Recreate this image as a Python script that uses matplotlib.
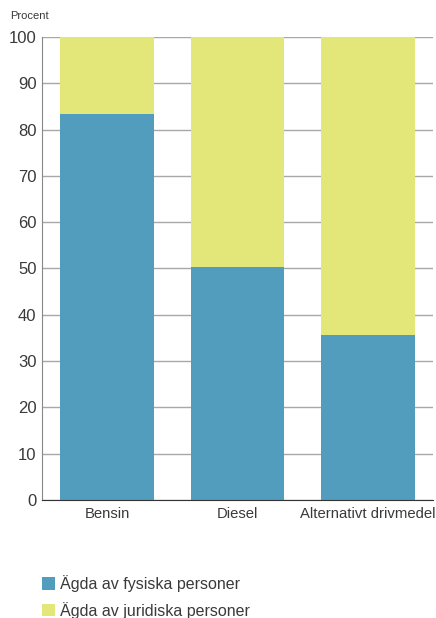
import matplotlib
matplotlib.use("Agg")
import matplotlib.pyplot as plt
from matplotlib.patches import Patch

categories = ["Bensin", "Diesel", "Alternativt drivmedel"]
fysiska = [83.4, 50.4, 35.6]
juridiska = [16.6, 49.6, 64.4]
series_names = ["Ägda av fysiska personer", "Ägda av juridiska personer"]
yticks = [0, 10, 20, 30, 40, 50, 60, 70, 80, 90, 100]

blue = "#529dbe"
yellow = "#e3e678"

plt.rcParams['font.family'] = ['Liberation Sans', 'DejaVu Sans']

fig = plt.figure(figsize=(4.36, 6.18), dpi=100)
ax = fig.add_axes([42/436, 118/618, 391/436, 463/618])

x = list(range(len(categories)))
ax.bar(x, fysiska, width=0.72, color=blue, zorder=2)
ax.bar(x, juridiska, width=0.72, bottom=fysiska, color=yellow, zorder=2)

ax.set_xlim(-0.5, 2.5)
ax.set_ylim(0, 100)
ax.set_yticks(yticks)
ax.set_yticklabels([str(t) for t in yticks], fontsize=12, color="#3a3a3a")
ax.set_xticks(x)
ax.set_xticklabels(categories, fontsize=10.7, color="#3a3a3a")
ax.tick_params(axis='y', length=0, pad=4)
ax.tick_params(axis='x', length=0, pad=5)
ax.yaxis.grid(True, color="#a8a8a8", linewidth=1, zorder=0)
ax.set_axisbelow(True)
for s in ["top", "right"]:
    ax.spines[s].set_visible(False)
ax.spines["left"].set_color("#888888")
ax.spines["bottom"].set_color("#333333")

fig.text(10/436, 1 - 16/618, "Procent", fontsize=8, color="#3a3a3a", va="center", ha="left")

handles = [Patch(facecolor=blue), Patch(facecolor=yellow)]
fig.legend(handles, series_names, loc="upper left", bbox_to_anchor=(42/436, 1 - 575/618),
           frameon=False, fontsize=11.5, handlelength=0.8, handleheight=0.8,
           handletextpad=0.3, labelspacing=0.62, borderpad=0, borderaxespad=0,
           labelcolor="#3a3a3a")

fig.savefig("out.png", dpi=100)
